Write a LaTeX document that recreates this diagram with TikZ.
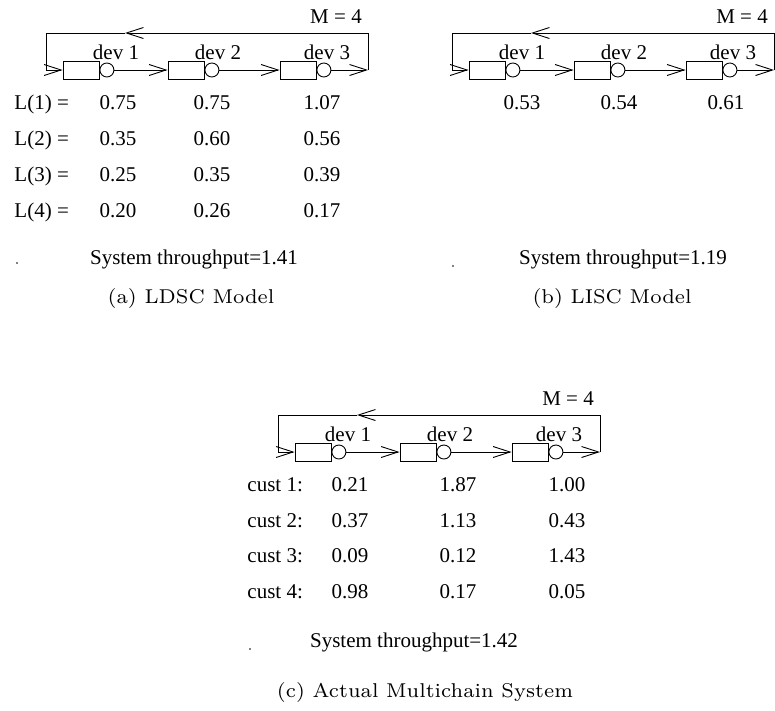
\documentclass[tikz,border=0pt]{standalone}
\usepackage{fontspec}
\setmainfont{Liberation Serif}
\newfontfamily\capfont{lmroman7-regular.otf}
\usetikzlibrary{arrows.meta}
\tikzset{
  tx/.style={font=\fontsize{21}{25}\selectfont, inner sep=0pt, anchor=base},
  txl/.style={tx, anchor=base west},
  qbox/.style={draw, minimum width=36pt, minimum height=18pt, inner sep=0pt},
  srv/.style={draw, circle, minimum size=14pt, inner sep=0pt},
  arr/.style={-{Straight Barb[length=17pt,width=11pt]}},
  captxt/.style={font=\capfont\fontsize{20}{24}\selectfont, inner sep=0pt, anchor=base},
  dotm/.style={circle, fill, inner sep=0pt, minimum size=1.8pt}
}
\newcommand\qpanel[3]{%
\begin{scope}[shift={(#2,#3)}, name prefix=#1-]
  \coordinate (TL) at (0,0);
  \coordinate (TR) at (322,0);
  \coordinate (R) at (322,37);
  \coordinate (BL) at (0,37);
  \coordinate (AT) at (79,0);
  \node[qbox] (b1) at (35,37) {};
  \node[srv, anchor=west] (c1) at (b1.east) {};
  \node[qbox] (b2) at (140,37) {};
  \node[srv, anchor=west] (c2) at (b2.east) {};
  \node[qbox] (b3) at (252,37) {};
  \node[srv, anchor=west] (c3) at (b3.east) {};
  \node[tx] (d1) at (70,26) {dev 1};
  \node[tx] (d2) at (172,26) {dev 2};
  \node[tx] (d3) at (281,26) {dev 3};
  \node[tx] (m) at (290,-10) {M = 4};
  \draw[arr] (BL) -- (b1.west);
  \draw[arr] (c1.east) -- (b2.west);
  \draw[arr] (c2.east) -- (b3.west);
  \draw[arr] (c3.east) -- (R);
  \draw (R) -- (TR);
  \draw[arr] (TR) -- (AT);
  \draw (AT) -- (TL) -- (BL);
\end{scope}}
\begin{document}
\begin{tikzpicture}[x=1pt,y=-1pt,line width=0.9pt]
\useasboundingbox (0,0) rectangle (775,710);
\qpanel{a}{46}{33}
\qpanel{b}{452}{33}
\qpanel{c}{278}{415}
% panel a values
\node[txl] (la1) at (14,109) {L(1) =};
\node[txl] (la2) at (14,145) {L(2) =};
\node[txl] (la3) at (14,181) {L(3) =};
\node[txl] (la4) at (14,217) {L(4) =};
\node[tx] (a11) at (118,109) {0.75}; \node[tx] (a12) at (212,109) {0.75}; \node[tx] (a13) at (322,109) {1.07};
\node[tx] (a21) at (118,145) {0.35}; \node[tx] (a22) at (212,145) {0.60}; \node[tx] (a23) at (322,145) {0.56};
\node[tx] (a31) at (118,181) {0.25}; \node[tx] (a32) at (212,181) {0.35}; \node[tx] (a33) at (322,181) {0.39};
\node[tx] (a41) at (118,217) {0.20}; \node[tx] (a42) at (212,217) {0.26}; \node[tx] (a43) at (322,217) {0.17};
\node[tx] (ta) at (194,264) {System throughput=1.41};
\node[dotm] (pa) at (17,263) {};
\node[captxt] (ca) at (191,303) {(a) LDSC Model};
% panel b values
\node[tx] (b11) at (522,109) {0.53}; \node[tx] (b12) at (619,109) {0.54}; \node[tx] (b13) at (726,109) {0.61};
\node[tx] (tb) at (623,264) {System throughput=1.19};
\node[dotm] (pb) at (453,266) {};
\node[captxt] (cb) at (612,303) {(b) LISC Model};
% panel c values
\node[txl] (lc1) at (247,491) {cust 1:};
\node[txl] (lc2) at (247,527) {cust 2:};
\node[txl] (lc3) at (247,562) {cust 3:};
\node[txl] (lc4) at (247,598) {cust 4:};
\node[tx] (c11) at (350,491) {0.21}; \node[tx] (c12) at (458,491) {1.87}; \node[tx] (c13) at (567,491) {1.00};
\node[tx] (c21) at (350,527) {0.37}; \node[tx] (c22) at (458,527) {1.13}; \node[tx] (c23) at (567,527) {0.43};
\node[tx] (c31) at (350,562) {0.09}; \node[tx] (c32) at (458,562) {0.12}; \node[tx] (c33) at (567,562) {1.43};
\node[tx] (c41) at (350,598) {0.98}; \node[tx] (c42) at (458,598) {0.17}; \node[tx] (c43) at (567,598) {0.05};
\node[tx] (tc) at (414,647) {System throughput=1.42};
\node[dotm] (pc) at (250,649) {};
\node[captxt] (cc) at (425,697) {(c) Actual Multichain System};
\end{tikzpicture}
\end{document}
